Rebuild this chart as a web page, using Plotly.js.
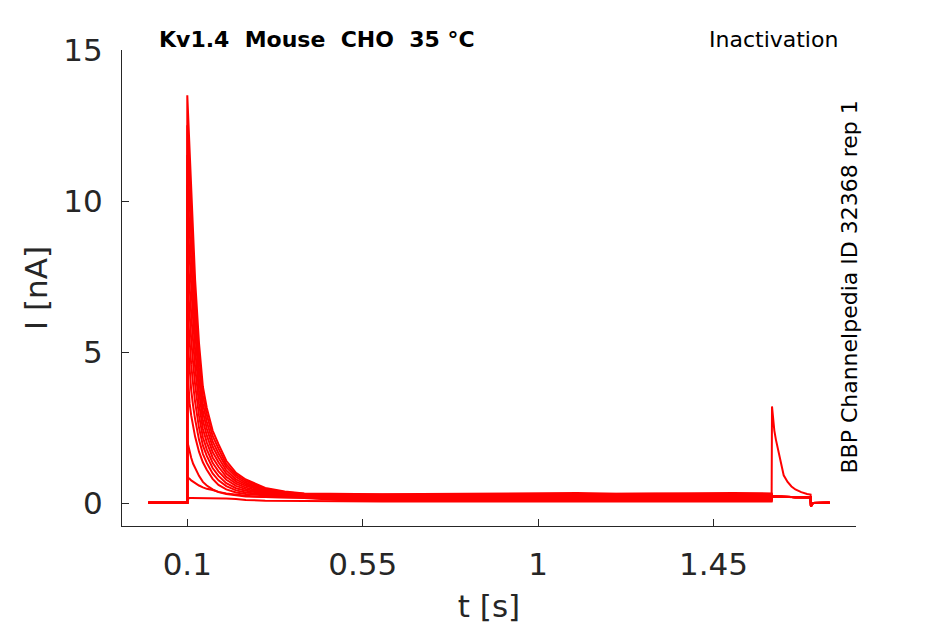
<!DOCTYPE html>
<html>
<head>
<meta charset="utf-8">
<script src="https://cdn.plot.ly/plotly-3.0.1.min.js"></script>
<style>
  body { margin: 0; background: #fff; }
  #chart { width: 945px; height: 624px; }
</style>
</head>
<body>
<div id="chart"></div>
<script>
// time bases [s]
var tPre = [0, 0.0999];
var tDecay = [0.1, 0.103, 0.106, 0.11, 0.115, 0.12, 0.13, 0.14, 0.15, 0.165, 0.18, 0.2, 0.225, 0.25, 0.3, 0.35, 0.4];
var tPlateau = [0.5, 0.6, 0.7, 0.8, 0.9, 1.0, 1.1, 1.2, 1.3, 1.4, 1.5, 1.599];
var tTest = [1.6, 1.603, 1.606, 1.61, 1.615, 1.62, 1.625, 1.63, 1.64, 1.65, 1.66, 1.675, 1.69, 1.699];
var tEnd = [1.7, 1.701, 1.705, 1.748];

// currents [nA], shared pieces
var iPre = [0.01, 0.01];
var iTestLeak = [0.22, 0.22, 0.21, 0.21, 0.21, 0.2, 0.2, 0.2, 0.2, 0.2, 0.19, 0.19, 0.19, 0.19];
var iTestSpike = [3.2, 2.75, 2.4, 2.1, 1.82, 1.5, 1.2, 0.92, 0.7, 0.55, 0.45, 0.36, 0.3, 0.28];
var iEnd = [-0.12, -0.06, 0.0, 0.01];

// prepulse response, one row per sweep
var iDecay = [
  [13.5, 12.6, 11.6, 10.5, 8.9, 7.4, 5.3, 3.85, 3.15, 2.4, 1.95, 1.4, 1.0, 0.78, 0.5, 0.38, 0.32],
  [12.51, 11.65, 10.68, 9.66, 8.19, 6.82, 4.9, 3.57, 2.92, 2.22, 1.8, 1.29, 0.93, 0.73, 0.47, 0.36, 0.31],
  [11.52, 10.69, 9.76, 8.81, 7.48, 6.25, 4.5, 3.3, 2.69, 2.04, 1.65, 1.19, 0.86, 0.67, 0.44, 0.34, 0.29],
  [10.54, 9.74, 8.84, 7.97, 6.77, 5.67, 4.1, 3.02, 2.47, 1.87, 1.5, 1.08, 0.78, 0.62, 0.42, 0.33, 0.28],
  [9.55, 8.78, 7.91, 7.12, 6.06, 5.09, 3.7, 2.74, 2.24, 1.69, 1.35, 0.98, 0.71, 0.57, 0.39, 0.31, 0.27],
  [8.55, 7.82, 6.99, 6.27, 5.34, 4.51, 3.3, 2.46, 2.01, 1.51, 1.2, 0.87, 0.64, 0.51, 0.36, 0.29, 0.25],
  [7.56, 6.86, 6.06, 5.43, 4.63, 3.93, 2.9, 2.18, 1.78, 1.33, 1.05, 0.77, 0.57, 0.46, 0.33, 0.27, 0.24],
  [6.58, 5.91, 5.14, 4.59, 3.92, 3.35, 2.5, 1.91, 1.56, 1.16, 0.9, 0.66, 0.49, 0.41, 0.31, 0.26, 0.23],
  [5.59, 4.95, 4.22, 3.74, 3.21, 2.78, 2.1, 1.63, 1.33, 0.98, 0.75, 0.56, 0.42, 0.35, 0.28, 0.24, 0.21],
  [4.6, 4.0, 3.3, 2.9, 2.5, 2.2, 1.7, 1.35, 1.1, 0.8, 0.6, 0.45, 0.35, 0.3, 0.25, 0.22, 0.2],
  [2.05, 1.85, 1.7, 1.5, 1.3, 1.15, 0.9, 0.7, 0.58, 0.45, 0.36, 0.3, 0.25, 0.22, 0.2, 0.19, 0.18],
  [0.85, 0.83, 0.8, 0.75, 0.7, 0.65, 0.58, 0.52, 0.47, 0.43, 0.37, 0.32, 0.27, 0.24, 0.2, 0.18, 0.17],
  [0.12, 0.16, 0.17, 0.17, 0.17, 0.17, 0.17, 0.17, 0.16, 0.16, 0.15, 0.15, 0.13, 0.1, 0.08, 0.07, 0.07]
];

var iPlateau = [
  [0.3, 0.29, 0.3, 0.31, 0.3, 0.32, 0.33, 0.31, 0.32, 0.34, 0.33, 0.32],
  [0.28, 0.28, 0.27, 0.28, 0.29, 0.3, 0.29, 0.3, 0.31, 0.3, 0.31, 0.3],
  [0.26, 0.25, 0.26, 0.25, 0.27, 0.26, 0.27, 0.28, 0.27, 0.28, 0.29, 0.28],
  [0.24, 0.23, 0.24, 0.24, 0.23, 0.25, 0.25, 0.24, 0.26, 0.25, 0.26, 0.26],
  [0.22, 0.22, 0.21, 0.22, 0.22, 0.23, 0.22, 0.23, 0.23, 0.24, 0.23, 0.24],
  [0.21, 0.2, 0.2, 0.19, 0.2, 0.21, 0.2, 0.21, 0.21, 0.2, 0.22, 0.21],
  [0.19, 0.18, 0.18, 0.18, 0.17, 0.18, 0.19, 0.18, 0.19, 0.19, 0.18, 0.19],
  [0.17, 0.16, 0.16, 0.15, 0.16, 0.16, 0.15, 0.16, 0.17, 0.16, 0.17, 0.16],
  [0.15, 0.14, 0.14, 0.13, 0.14, 0.13, 0.14, 0.13, 0.14, 0.15, 0.14, 0.14],
  [0.13, 0.12, 0.12, 0.11, 0.12, 0.11, 0.12, 0.12, 0.11, 0.12, 0.12, 0.11],
  [0.11, 0.1, 0.1, 0.09, 0.1, 0.09, 0.1, 0.09, 0.1, 0.09, 0.1, 0.09],
  [0.09, 0.08, 0.08, 0.07, 0.08, 0.07, 0.08, 0.07, 0.07, 0.08, 0.07, 0.07],
  [0.06, 0.05, 0.06, 0.05, 0.05, 0.06, 0.05, 0.05, 0.06, 0.05, 0.05, 0.05]
];

// only the last sweep recovers at the test pulse
var spikeSweep = 12;

var tAll = [].concat(tPre, tDecay, tPlateau, tTest, tEnd);

var data = [];
for (var k = 0; k < iDecay.length; k++) {
  var test = (k === spikeSweep) ? iTestSpike : iTestLeak;
  data.push({
    x: tAll,
    y: [].concat(iPre, iDecay[k], iPlateau[k], test, iEnd),
    type: 'scatter',
    mode: 'lines',
    line: {color: '#ff0000', width: 2},
    hoverinfo: 'skip'
  });
}

var axisColor = '#262626';

var layout = {
  width: 945,
  height: 624,
  margin: {l: 122, r: 89, t: 50, b: 98},
  paper_bgcolor: '#fff',
  plot_bgcolor: '#fff',
  showlegend: false,
  font: {family: 'DejaVu Sans', color: axisColor},
  xaxis: {
    range: [-0.0675, 1.8155],
    tickvals: [0.1, 0.55, 1, 1.45],
    ticktext: ['0.1', '0.55', '1', '1.45'],
    ticks: 'inside',
    ticklen: 7,
    tickcolor: axisColor,
    showline: true,
    linecolor: axisColor,
    linewidth: 1,
    showgrid: false,
    zeroline: false,
    tickfont: {size: 31, color: axisColor},
    ticklabelstandoff: 11,
    title: {text: 't [s]', font: {size: 31, color: axisColor}, standoff: 14}
  },
  yaxis: {
    range: [-0.76, 15],
    tickvals: [0, 5, 10, 15],
    ticks: 'inside',
    ticklen: 7,
    tickcolor: axisColor,
    showline: true,
    linecolor: axisColor,
    linewidth: 1,
    showgrid: false,
    zeroline: false,
    tickfont: {size: 31, color: axisColor},
    ticklabelstandoff: 12,
    title: {text: 'I [nA]', font: {size: 31, color: axisColor}, standoff: 6}
  },
  annotations: [
    {
      text: '<b>Kv1.4  Mouse  CHO  35 °C</b>',
      xref: 'paper', yref: 'paper',
      x: 0.0476, y: 1.0231,
      xanchor: 'left', yanchor: 'middle',
      showarrow: false,
      font: {size: 22, color: '#000'}
    },
    {
      text: 'Inactivation',
      xref: 'paper', yref: 'paper',
      x: 0.978, y: 1.0231,
      xanchor: 'right', yanchor: 'middle',
      showarrow: false,
      font: {size: 22, color: '#000'}
    },
    {
      text: 'BBP Channelpedia ID 32368 rep 1',
      xref: 'paper', yref: 'paper',
      x: 0.9905, y: 0.501,
      xanchor: 'center', yanchor: 'middle',
      textangle: -90,
      showarrow: false,
      font: {size: 22, color: '#000'}
    }
  ]
};

Plotly.newPlot('chart', data, layout, {displayModeBar: false, staticPlot: true});
</script>
</body>
</html>
